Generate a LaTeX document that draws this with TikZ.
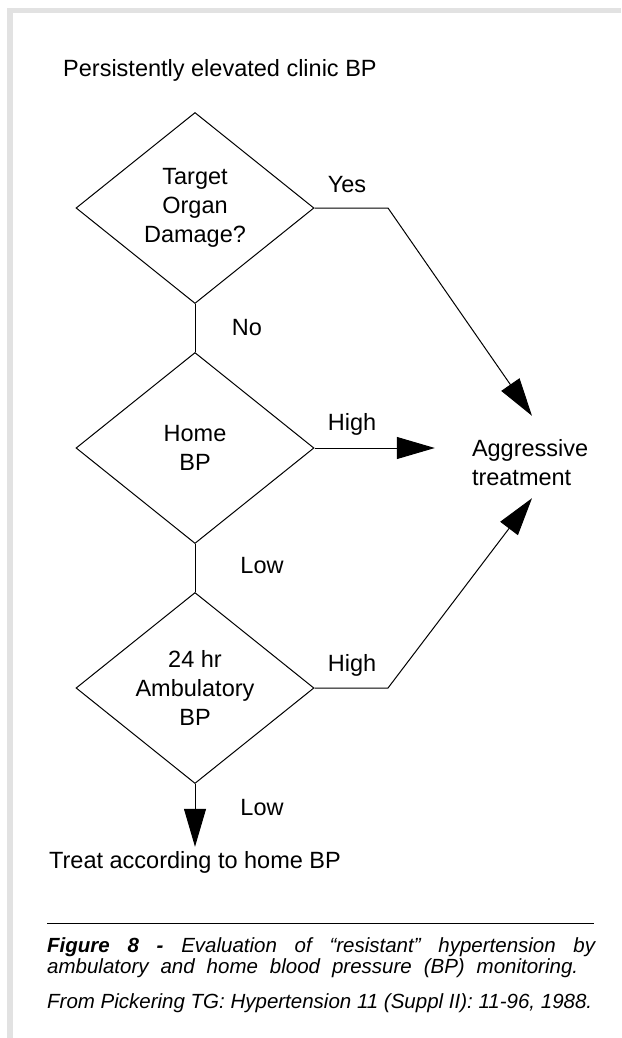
\documentclass[tikz,border=0pt]{standalone}
\usepackage{fontspec}
\setmainfont{Liberation Sans}
\usetikzlibrary{shapes.geometric,arrows.meta}
\definecolor{framegray}{RGB}{226,226,226}

\begin{document}
\begin{tikzpicture}[
x=1pt,y=-1pt,
every node/.style={
font=\fontsize{23.5}{29}\selectfont,
inner sep=4pt
},
decision/.style={
draw,
diamond,
aspect=1.25,
align=center,
minimum width=238pt,
minimum height=191pt,
inner sep=0pt,
line width=1pt
},
flow/.style={
line width=1pt
},
arrowflow/.style={
line width=1pt,
-{Triangle[length=38pt,width=22pt]}
},
caption/.style={
font=\fontsize{20.5}{24}\selectfont\itshape,
anchor=base west,
inner sep=0pt
}
]

\useasboundingbox (0,0) rectangle (621,1038);

\fill[framegray] (7,8) rectangle (621,13);
\fill[framegray] (7,8) rectangle (13,1038);

\node[anchor=base west,inner sep=0pt] (start) at (63,77)
{Persistently elevated clinic BP};

\node[decision] (TOD) at (195,208)
{Target\\Organ\\Damage?};

\node[decision] (HBP) at (195,448)
{Home\\BP};

\node[decision] (ABP) at (195,688)
{24 hr\\Ambulatory\\BP};

\node[align=left,text width=120pt,minimum height=96pt,inner sep=0pt,
minimum width=194pt] (AGG) at (532,463)
{Aggressive\\treatment};

\node[anchor=base] (TREAT) at (195,868)
{Treat according to home BP};

\node[anchor=base] (yes) at (347,192) {Yes};
\node[anchor=base] (no) at (247,335) {No};
\node[anchor=base] (highH) at (352,430) {High};
\node[anchor=base] (lowH) at (262,573) {Low};
\node[anchor=base] (highA) at (352,671) {High};
\node[anchor=base] (lowA) at (262,815) {Low};

\coordinate (bendY) at (388,208);
\coordinate (bendA) at (388,688);

\draw[flow] (TOD.south) -- (HBP.north);
\draw[flow] (HBP.south) -- (ABP.north);

\draw[arrowflow] (TOD.east) -- (bendY) -- ([yshift=-1pt]AGG.north);
\draw[arrowflow] (HBP.east) -- (HBP.east -| AGG.west);
\draw[arrowflow] (ABP.east) -- (bendA) -- ([yshift=13pt]AGG.south);
\draw[arrowflow] (ABP.south) -- (TREAT.north);

\coordinate (ruleL) at (47,923);
\coordinate (ruleR) at (594,923);
\draw[line width=1pt] (ruleL) -- (ruleR);

\node[caption] (cap1) at (47,952)
{\makebox[548pt][s]{\textbf{Figure 8 -} Evaluation of “resistant” hypertension by}};

\node[caption] (cap2) at (47,973)
{\makebox[531pt][s]{ambulatory and home blood pressure (BP) monitoring.}};

\node[caption] (cap3) at (47,1008)
{From Pickering TG: Hypertension 11 (Suppl II): 11-96, 1988.};

\end{tikzpicture}
\end{document}
